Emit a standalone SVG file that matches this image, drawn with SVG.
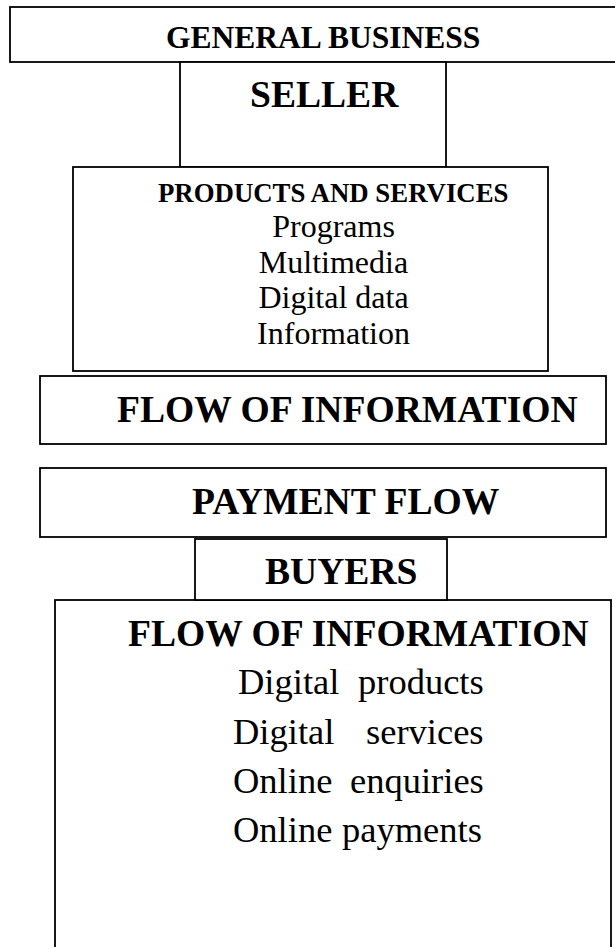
<svg xmlns="http://www.w3.org/2000/svg" width="615" height="947" viewBox="0 0 615 947">
<style>
rect.box { fill: #fff; stroke: #000; stroke-width: 1.8; }
text { font-family: "Liberation Serif", "Times New Roman", serif; fill: #000; }
.b { font-weight: bold; }
.big { font-size: 37.6px; }
.item { font-size: 32px; }
.item2 { font-size: 36.5px; }
</style>
<rect width="615" height="947" fill="#fff"/>
<g id="general-business">
  <rect class="box" x="10" y="7" width="620" height="55"/>
  <text class="b" x="166" y="48" font-size="31.5">GENERAL BUSINESS</text>
</g>
<g id="seller">
  <rect class="box" x="180" y="62" width="266" height="105"/>
  <text class="b big" x="250" y="106.5">SELLER</text>
</g>
<g id="products">
  <rect class="box" x="73" y="167" width="475" height="204"/>
  <text class="b" x="158" y="202" font-size="26.8">PRODUCTS AND SERVICES</text>
  <text class="item" x="333.5" y="237" text-anchor="middle">Programs</text>
  <text class="item" x="333.5" y="272.5" text-anchor="middle">Multimedia</text>
  <text class="item" x="333.5" y="308" text-anchor="middle">Digital data</text>
  <text class="item" x="333.5" y="344" text-anchor="middle">Information</text>
</g>
<g id="flow-of-information">
  <rect class="box" x="40" y="376" width="566" height="68"/>
  <text class="b big" x="117" y="422">FLOW OF INFORMATION</text>
</g>
<g id="payment-flow">
  <rect class="box" x="40" y="468" width="566" height="69"/>
  <text class="b big" x="192" y="514">PAYMENT FLOW</text>
</g>
<g id="buyers-info">
  <rect class="box" x="55" y="600" width="556" height="370"/>
  <text class="b big" x="128" y="646">FLOW OF INFORMATION</text>
  <text class="item2" y="694"><tspan x="238">Digital</tspan><tspan x="358">products</tspan></text>
  <text class="item2" y="744"><tspan x="233">Digital</tspan><tspan x="366">services</tspan></text>
  <text class="item2" y="793"><tspan x="233">Online</tspan><tspan x="350">enquiries</tspan></text>
  <text class="item2" y="842"><tspan x="233">Online</tspan><tspan x="342">payments</tspan></text>
</g>
<g id="buyers">
  <rect class="box" x="195" y="539" width="252" height="61"/>
  <text class="b big" x="265" y="584">BUYERS</text>
</g>
<g id="connectors"></g>
</svg>
